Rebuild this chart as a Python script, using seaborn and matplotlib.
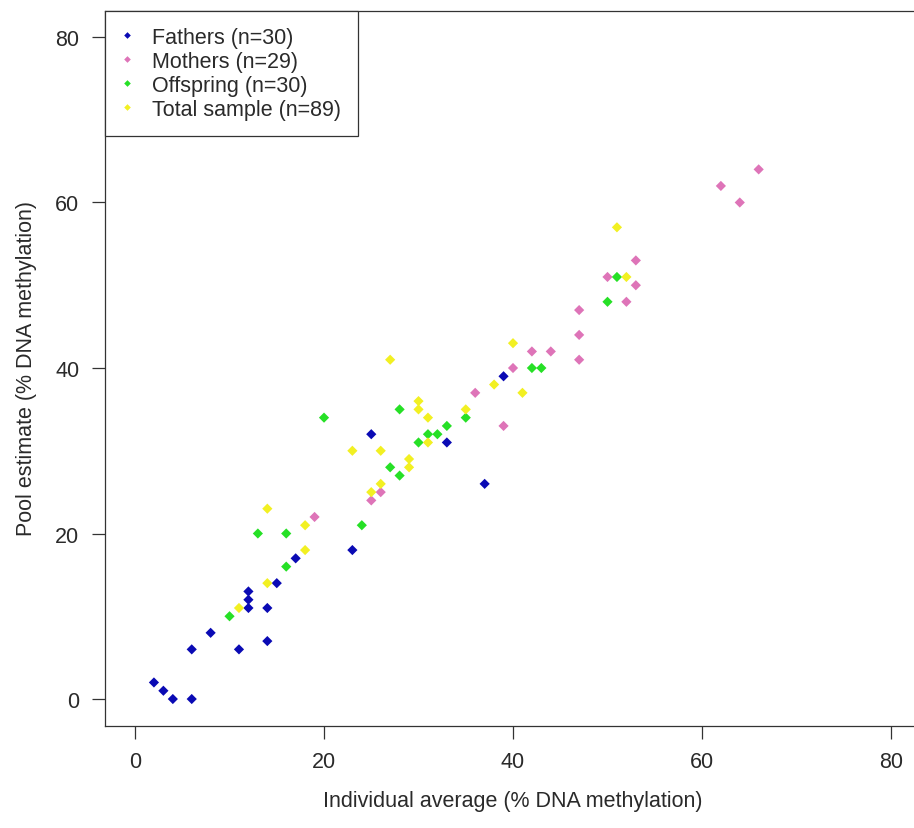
import matplotlib
matplotlib.use("Agg")
import matplotlib.pyplot as plt
import seaborn as sns
import pandas as pd

# ---- data ----
fathers_x = [2, 3, 4, 6, 6, 8, 11, 14, 12, 12, 12, 14, 15, 17, 23, 25, 33, 37, 39]
fathers_y = [2, 1, 0, 0, 6, 8, 6, 7, 11, 12, 13, 11, 14, 17, 18, 32, 31, 26, 39]

mothers_x = [19, 25, 26, 36, 39, 40, 42, 44, 47, 47, 47, 50, 52, 53, 53, 62, 64, 66]
mothers_y = [22, 24, 25, 37, 33, 40, 42, 42, 44, 41, 47, 51, 48, 53, 50, 62, 60, 64]

offspring_x = [10, 16, 13, 16, 24, 20, 28, 35, 33, 31, 32, 30, 27, 28, 42, 43, 50, 51]
offspring_y = [10, 16, 20, 20, 21, 34, 35, 34, 33, 32, 32, 31, 28, 27, 40, 40, 48, 51]

total_x = [11, 14, 14, 18, 18, 25, 27, 38, 30, 30, 31, 35, 31, 23, 26, 29, 29, 26, 40, 41, 51, 52]
total_y = [11, 14, 23, 21, 18, 25, 41, 38, 36, 35, 34, 35, 31, 30, 30, 29, 28, 26, 43, 37, 57, 51]

groups = ["Fathers (n=30)", "Mothers (n=29)", "Offspring (n=30)", "Total sample (n=89)"]
colors = ["#0A0AB4", "#DE74B8", "#26E026", "#F2F022"]
ticks = [0, 20, 40, 60, 80]
x_label = "Individual average (% DNA methylation)"
y_label = "Pool estimate (% DNA methylation)"

series = [(fathers_x, fathers_y), (mothers_x, mothers_y),
          (offspring_x, offspring_y), (total_x, total_y)]
rows = []
for g, (xs, ys) in zip(groups, series):
    for a, b in zip(xs, ys):
        rows.append({"x": a, "y": b, "group": g})
df = pd.DataFrame(rows)

sns.set_theme(style="white")
plt.rcParams["font.family"] = ["Liberation Sans", "DejaVu Sans"]
txt = "#2a2a2a"
plt.rcParams["text.color"] = txt
plt.rcParams["axes.labelcolor"] = txt
plt.rcParams["xtick.color"] = "#333333"
plt.rcParams["ytick.color"] = "#333333"

W, H = 914, 829
fig = plt.figure(figsize=(W / 100, H / 100), dpi=100)
left_px, right_px, top_px, bot_px = 104.8, 921.2, 11.5, 726.5
ax = fig.add_axes([left_px / W, 1 - bot_px / H,
                   (right_px - left_px) / W, (bot_px - top_px) / H])

sns.scatterplot(data=df, x="x", y="y", hue="group", hue_order=groups,
                palette=colors, marker="D", s=27, linewidth=0, ax=ax)

ax.set_xlim(-3.2, 83.2)
ax.set_ylim(-3.2, 83.2)
ax.set_xticks(ticks)
ax.set_yticks(ticks)
ax.tick_params(axis="both", which="both", direction="out", length=9.4,
               width=0.9, pad=9, labelsize=15.5, labelcolor=txt,
               bottom=True, left=True)
for name, sp in ax.spines.items():
    sp.set_color("#333333")
    sp.set_linewidth(0.9)
    sp.set_visible(name != "right")

ax.set_xlabel(x_label, fontsize=15.5)
ax.set_ylabel(y_label, fontsize=15.5)
ax.xaxis.set_label_coords(0.5, (bot_px - 791) / (bot_px - top_px))
ax.yaxis.set_label_coords((37 - left_px) / (right_px - left_px), 0.5)

handles, labels = ax.get_legend_handles_labels()
if ax.get_legend():
    ax.get_legend().remove()
leg = ax.legend(handles, labels, loc="upper left", bbox_to_anchor=(0, 1),
                borderaxespad=0, fontsize=15.5, frameon=True, fancybox=False,
                borderpad=0.76, labelspacing=0.14, handlelength=0.5,
                handletextpad=0.95, markerscale=0.65)
fr = leg.get_frame()
fr.set_edgecolor("#333333")
fr.set_linewidth(0.9)
fr.set_alpha(1)

fig.savefig("out.png", dpi=100)
